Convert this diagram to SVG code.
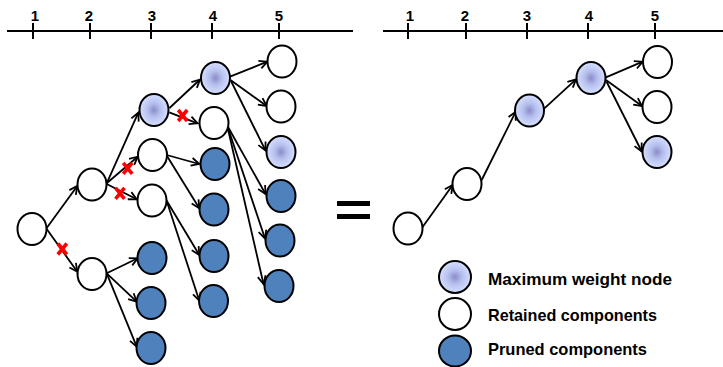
<svg xmlns="http://www.w3.org/2000/svg" width="723" height="367" viewBox="0 0 723 367">
<style>
.ax{stroke:#000;stroke-width:2;fill:none}
.tl{font-family:"Liberation Sans",Arial,sans-serif;font-weight:bold;font-size:15px;text-anchor:middle;fill:#000}
.lg{font-family:"Liberation Sans",Arial,sans-serif;font-weight:bold;font-size:17px;fill:#000}
.n{stroke:#000;stroke-width:2}
.w{fill:#fff}
.b{fill:#4F81BD}
.m{fill:url(#mg)}
.e{stroke:#000;stroke-width:1.8;fill:none;marker-end:url(#ah)}
.x{stroke:#f00;stroke-width:3.6;stroke-linecap:butt}
</style>
<defs>
<radialGradient id="mg" cx="0.5" cy="0.5" r="0.5">
<stop offset="0" stop-color="#8c8cc8"/>
<stop offset="0.45" stop-color="#b6c0ee"/>
<stop offset="1" stop-color="#d6e0ff"/>
</radialGradient>
<marker id="ah" markerUnits="userSpaceOnUse" markerWidth="12" markerHeight="12" viewBox="-9 -6 12 12" refX="0" refY="0" orient="auto">
<path d="M-8,-4 L0,0 L-8,4" fill="none" stroke="#000" stroke-width="1.8"/>
</marker>
</defs>

<g id="axis-left">
<line class="ax" x1="7" y1="31" x2="353" y2="31"/>
<line class="ax" x1="33" y1="23" x2="33" y2="39"/>
<line class="ax" x1="90" y1="23" x2="90" y2="39"/>
<line class="ax" x1="151" y1="23" x2="151" y2="39"/>
<line class="ax" x1="212" y1="23" x2="212" y2="39"/>
<line class="ax" x1="279" y1="23" x2="279" y2="39"/>
<text class="tl" x="35" y="21">1</text>
<text class="tl" x="89" y="21">2</text>
<text class="tl" x="152" y="21">3</text>
<text class="tl" x="213" y="21">4</text>
<text class="tl" x="279" y="21">5</text>
</g>
<g id="axis-right">
<line class="ax" x1="383" y1="31" x2="723" y2="31"/>
<line class="ax" x1="408" y1="23" x2="408" y2="39"/>
<line class="ax" x1="466" y1="23" x2="466" y2="39"/>
<line class="ax" x1="527" y1="23" x2="527" y2="39"/>
<line class="ax" x1="588" y1="23" x2="588" y2="39"/>
<line class="ax" x1="655" y1="23" x2="655" y2="39"/>
<text class="tl" x="410" y="21">1</text>
<text class="tl" x="465" y="21">2</text>
<text class="tl" x="527" y="21">3</text>
<text class="tl" x="589" y="21">4</text>
<text class="tl" x="655" y="21">5</text>
</g>

<g id="connectors">
<line class="e" x1="46.7" y1="228" x2="77.3" y2="186"/>
<line class="e" x1="46.7" y1="229" x2="77.3" y2="271.7"/>
<line class="e" x1="106.7" y1="183.3" x2="138.3" y2="112.7"/>
<line class="e" x1="106.7" y1="183.3" x2="137.7" y2="156.7"/>
<line class="e" x1="106.7" y1="184" x2="136.7" y2="199.3"/>
<line class="e" x1="106.7" y1="273.3" x2="137.7" y2="258.3"/>
<line class="e" x1="106.7" y1="273.3" x2="136.7" y2="301.7"/>
<line class="e" x1="106.7" y1="273.3" x2="136.7" y2="346.7"/>
<line class="e" x1="169.5" y1="108" x2="200" y2="79.5"/>
<line class="e" x1="169.3" y1="112.3" x2="197.5" y2="123.3"/>
<line class="e" x1="166.7" y1="155" x2="199.3" y2="164"/>
<line class="e" x1="166.7" y1="155.5" x2="199.3" y2="208.3"/>
<line class="e" x1="166.7" y1="200.7" x2="199.3" y2="255"/>
<line class="e" x1="166.7" y1="201" x2="199.3" y2="300.7"/>
<line class="e" x1="230" y1="76.7" x2="267.3" y2="61.7"/>
<line class="e" x1="230.5" y1="80" x2="266.7" y2="106"/>
<line class="e" x1="231" y1="81" x2="265.5" y2="150.5"/>
<line class="e" x1="227.5" y1="126" x2="265.5" y2="194"/>
<line class="e" x1="227.5" y1="126.5" x2="265" y2="238.5"/>
<line class="e" x1="227.5" y1="127" x2="263.5" y2="284"/>
<line class="e" x1="421.7" y1="228.3" x2="452.7" y2="185"/>
<line class="e" x1="481.7" y1="180" x2="515.7" y2="111.7"/>
<line class="e" x1="543.3" y1="109.3" x2="576" y2="79.3"/>
<line class="e" x1="605.3" y1="77.7" x2="642.7" y2="61.7"/>
<line class="e" x1="606" y1="80" x2="642" y2="106"/>
<line class="e" x1="606.5" y1="81.5" x2="641.7" y2="151.5"/>
</g>

<g id="prune-marks">
<g transform="translate(62.3,249)"><line class="x" x1="-4.5" y1="-5.5" x2="4.5" y2="5.5"/><line class="x" x1="4.5" y1="-5.5" x2="-4.5" y2="5.5"/></g>
<g transform="translate(127.7,168.3)"><line class="x" x1="-4.5" y1="-5.5" x2="4.5" y2="5.5"/><line class="x" x1="4.5" y1="-5.5" x2="-4.5" y2="5.5"/></g>
<g transform="translate(120,193.3)"><line class="x" x1="-4.5" y1="-5.5" x2="4.5" y2="5.5"/><line class="x" x1="4.5" y1="-5.5" x2="-4.5" y2="5.5"/></g>
<g transform="translate(182.7,115.5)"><line class="x" x1="-4.5" y1="-5.5" x2="4.5" y2="5.5"/><line class="x" x1="4.5" y1="-5.5" x2="-4.5" y2="5.5"/></g>
</g>

<g id="node-A"><ellipse class="n w" cx="32" cy="229" rx="14.5" ry="16"/></g>
<g id="node-B"><ellipse class="n w" cx="92" cy="184.5" rx="14.5" ry="16"/></g>
<g id="node-C"><ellipse class="n w" cx="92" cy="274" rx="14.5" ry="16"/></g>
<g id="node-M3"><ellipse class="n m" cx="154" cy="110" rx="14.5" ry="16"/></g>
<g id="node-W3a"><ellipse class="n w" cx="152.5" cy="155" rx="14.5" ry="16"/></g>
<g id="node-W3b"><ellipse class="n w" cx="152" cy="200.5" rx="14.5" ry="16"/></g>
<g id="node-B3a"><ellipse class="n b" cx="152" cy="258" rx="14.5" ry="16"/></g>
<g id="node-B3b"><ellipse class="n b" cx="151" cy="303" rx="14.5" ry="16"/></g>
<g id="node-B3c"><ellipse class="n b" cx="151" cy="348" rx="14.5" ry="16"/></g>
<g id="node-M4"><ellipse class="n m" cx="215.5" cy="78" rx="14.5" ry="16"/></g>
<g id="node-W4"><ellipse class="n w" cx="214" cy="123" rx="14.5" ry="16"/></g>
<g id="node-B4a"><ellipse class="n b" cx="215" cy="164" rx="14.5" ry="16"/></g>
<g id="node-B4b"><ellipse class="n b" cx="214" cy="209.5" rx="14.5" ry="16"/></g>
<g id="node-B4c"><ellipse class="n b" cx="214" cy="256" rx="14.5" ry="16"/></g>
<g id="node-B4d"><ellipse class="n b" cx="213.5" cy="301" rx="14.5" ry="16"/></g>
<g id="node-W5a"><ellipse class="n w" cx="282" cy="61.5" rx="14.5" ry="16"/></g>
<g id="node-W5b"><ellipse class="n w" cx="281" cy="106.5" rx="14.5" ry="16"/></g>
<g id="node-M5"><ellipse class="n m" cx="281" cy="152" rx="14.5" ry="16"/></g>
<g id="node-B5a"><ellipse class="n b" cx="281" cy="196" rx="14.5" ry="16"/></g>
<g id="node-B5b"><ellipse class="n b" cx="280" cy="240.5" rx="14.5" ry="16"/></g>
<g id="node-B5c"><ellipse class="n b" cx="279" cy="286" rx="14.5" ry="16"/></g>

<g id="equals">
<rect x="337" y="201" width="33" height="5" fill="#000"/>
<rect x="337" y="214" width="33" height="5" fill="#000"/>
</g>

<g id="node-R1"><ellipse class="n w" cx="408" cy="228.5" rx="14.5" ry="16"/></g>
<g id="node-R2"><ellipse class="n w" cx="467" cy="184" rx="14.5" ry="16"/></g>
<g id="node-R3"><ellipse class="n m" cx="529.5" cy="110.5" rx="14.5" ry="16"/></g>
<g id="node-R4"><ellipse class="n m" cx="591" cy="78" rx="14.5" ry="16"/></g>
<g id="node-R5"><ellipse class="n w" cx="657.5" cy="62" rx="14.5" ry="16"/></g>
<g id="node-R6"><ellipse class="n w" cx="657" cy="107" rx="14.5" ry="16"/></g>
<g id="node-R7"><ellipse class="n m" cx="657" cy="152" rx="14.5" ry="16"/></g>

<g id="legend-max"><ellipse class="n m" cx="455" cy="277" rx="16" ry="16"/><text class="lg" x="488" y="284.5" textLength="184" lengthAdjust="spacingAndGlyphs">Maximum weight node</text></g>
<g id="legend-retained"><ellipse class="n w" cx="455" cy="314" rx="16" ry="16"/><text class="lg" x="488" y="321" textLength="169" lengthAdjust="spacingAndGlyphs">Retained components</text></g>
<g id="legend-pruned"><ellipse class="n b" cx="455" cy="351" rx="16" ry="15.5"/><text class="lg" x="488" y="355" textLength="159" lengthAdjust="spacingAndGlyphs">Pruned components</text></g>
</svg>
